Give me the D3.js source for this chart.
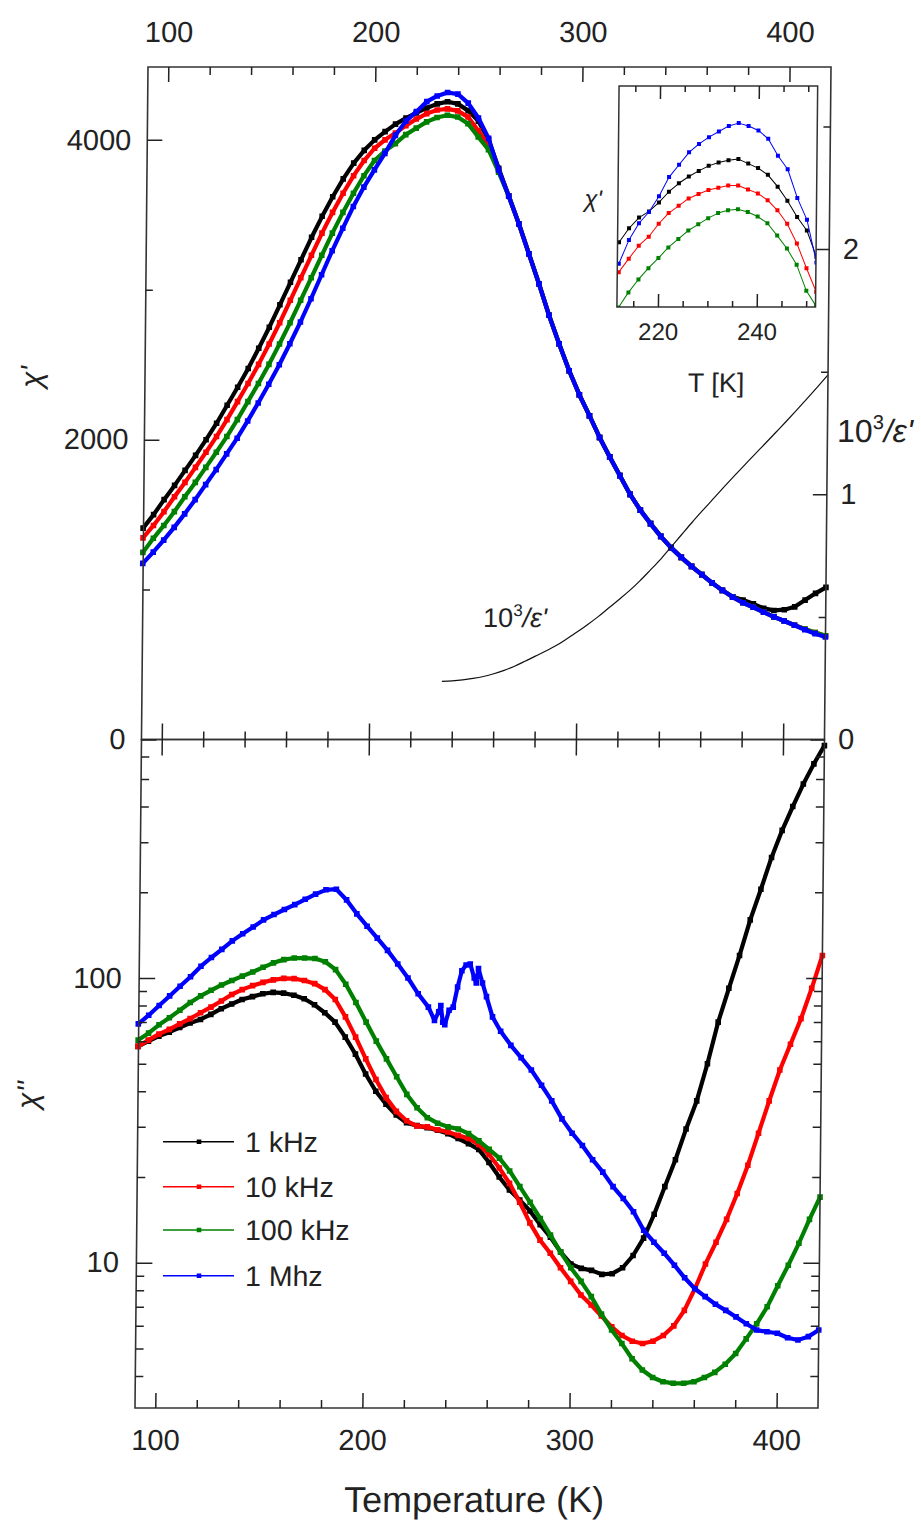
<!DOCTYPE html>
<html>
<head>
<meta charset="utf-8">
<script src="https://cdn.jsdelivr.net/npm/d3@7/dist/d3.min.js"></script>
<style>
  html, body { margin: 0; padding: 0; background: #fff; }
  svg text { font-family: "Liberation Sans", Arial, sans-serif; fill: #222; }
</style>
</head>
<body>
<svg id="chart" width="921" height="1522"></svg>
<script>
// ---------------- data ----------------
const temperature = [90,95,100,105,110,115,120,125,130,135,140,145,150,155,160,165,170,175,180,185,
  190,195,200,205,210,215,220,225,230,235,240,245,250,255,260,265,270,275,280,285,
  290,295,300,305,310,315,320,325,330,335,340,345,350,355,360,365,370,375,380,385,
  390,395,400,405,410,415,420];

// real part chi' (linear scale, upper panel)
const chiReal1k = [1410,1500,1600,1695,1795,1895,2000,2110,2230,2350,
  2475,2610,2750,2900,3050,3200,3350,3490,3620,3740,
  3845,3930,4000,4055,4105,4145,4180,4213,4240,4254,
  4240,4195,4125,4000,3810,3625,3440,3240,3040,2830,
  2640,2460,2300,2160,2015,1885,1760,1635,1530,1440,
  1355,1280,1215,1155,1100,1045,995,952,930,905,
  875,861,866,885,930,975,1015];
const chiReal10k = [1345,1428,1520,1619,1715,1815,1916,2021,2134,2254,
  2375,2502,2638,2780,2930,3080,3230,3378,3516,3644,
  3761,3862,3944,4000,4045,4095,4139,4175,4199,4207,
  4193,4152,4060,3965,3795,3625,3440,3240,3040,2830,
  2640,2460,2300,2160,2015,1885,1760,1635,1530,1440,
  1355,1280,1215,1155,1100,1045,995,950,912,882,
  850,818,790,762,737,713,692];
const chiReal100k = [1248,1342,1428,1520,1619,1715,1815,1916,2021,2134,
  2254,2375,2502,2638,2780,2930,3080,3230,3378,3516,
  3644,3761,3862,3925,3975,4035,4078,4120,4149,4164,
  4152,4108,4020,3935,3785,3625,3440,3240,3040,2830,
  2640,2460,2300,2160,2015,1885,1760,1635,1530,1440,
  1355,1280,1215,1155,1100,1045,995,950,912,882,
  850,818,790,762,737,713,692];
const chiReal1M = [1175,1250,1330,1415,1505,1600,1700,1800,1905,2010,
  2125,2245,2370,2500,2640,2785,2940,3100,3260,3410,
  3555,3685,3800,3910,4030,4125,4188,4255,4293,4316,
  4305,4245,4146,4010,3800,3625,3440,3240,3040,2830,
  2640,2460,2300,2160,2015,1885,1760,1635,1530,1440,
  1355,1280,1215,1155,1100,1045,995,950,912,882,
  850,818,790,762,732,706,684];

// inverse permittivity 10^3/eps' (right axis, upper panel)
const invEpsTemp = [235,240,245,250,255,260,265,270,275,280,285,290,295,300,305,310,315,320,325,330,
  335,340,345,350,355,360,365,370,375,380,385,390,395,400,405,410,415,420];
const invEps = [0.237,0.239,0.243,0.249,0.257,0.268,0.282,0.299,0.319,0.340,0.361,0.383,0.410,0.438,0.468,0.500,0.535,0.570,0.606,0.646,
  0.690,0.735,0.785,0.835,0.885,0.933,0.980,1.027,1.073,1.118,1.163,1.207,1.252,1.297,1.343,1.390,1.438,1.487];

// imaginary part chi'' (log scale, lower panel)
const chiImag1k = [57.5,60,62.5,64.5,67,69.5,71.5,74.5,78,81,
  84,86,88,89,88.5,87,84.5,80.5,75.5,70,
  62,54,46,40,36,33,31,30.3,29.8,29.2,
  28.4,27.3,26.2,25,22.5,20,18,16.6,15.2,13.6,
  12.3,10.9,9.9,9.55,9.4,9.1,9.15,9.6,10.6,12.2,
  14.8,18.5,23,29.5,37,50,70,92,120,160,
  205,265,330,400,480,565,655];
const chiImag10k = [57.5,60.5,63.5,66,69,72,75.5,79,83,87.5,
  91,94,96.5,98.5,99.7,99.5,98,95.5,91,84,
  73,62,52,44,38,34,31.5,30.2,30,29.3,
  28.8,28,27.3,26,24,21.5,19,16.3,13.8,12,
  10.8,9.6,8.6,7.7,7.1,6.5,5.95,5.55,5.3,5.2,
  5.3,5.55,6.0,6.8,8.1,9.9,11.8,14.2,17.5,22,
  28.5,37,47.5,58.5,72,92,120];
const chiImag100k = [60.5,64,68.5,72.5,77,82,86.5,90.5,94.5,98,
  101.5,105,109,113,116,117.5,117.5,117,114,107,
  95,82,70,60,52,45,39,35,32.3,30.9,
  30,29.5,28.4,26.8,25,23.3,21,18.5,16.3,14.3,
  12.5,10.9,9.6,8.6,7.6,6.6,5.8,5.2,4.6,4.2,
  3.95,3.82,3.77,3.77,3.82,3.95,4.12,4.4,4.8,5.4,
  6.1,7.0,8.3,9.8,11.7,14.2,17];
const chiImag1MTemp = [90,95,100,105,110,115,120,125,130,135,140,145,150,155,160,165,170,175,180,185,
  190,195,200,205,210,215,220,225,230,
  233,235,236,237,238,240,242,244,246,248,250,252,253,254,256,258,261,
  265,270,275,280,285,290,295,300,305,310,315,320,325,330,335,340,345,350,355,360,
  365,370,375,380,385,390,395,400,405,410,415,420];
const chiImag1M = [69,74,80,86.5,93.5,101,110,118,126,135,143,151,160,167,174,181,189,197,204,205,
  188,168,152,138,125,112,100,88,79,
  71,76,80,70,68.5,77,79,93,106,111,112,100,96,108,96,86,73,
  65,58,52.5,47.5,42,37,32,28.5,25.8,23,20.8,18.5,16.8,15.1,13,11.8,10.8,9.8,8.85,8.1,
  7.6,7.15,6.8,6.45,6.1,5.8,5.72,5.65,5.45,5.35,5.5,5.8];

// inset: chi' around the maximum
const insetTemp = [212,214,216,218,220,222,224,226,228,230,232,234,236,238,240,242,244,246,248,250,252];
const insetChi1k = [4106,4131,4150,4161,4177,4196,4211,4223,4233,4242,4248,4252,4254,4246,4238,4226,4205,4180,4151,4127,4080];
const insetChi10k = [4053,4077,4100,4116,4139,4158,4171,4184,4192,4199,4203,4207,4207,4200,4193,4181,4163,4139,4104,4060,4018];
const insetChi100k = [3990,4017,4040,4060,4078,4097,4112,4127,4138,4149,4158,4163,4165,4160,4152,4140,4118,4095,4066,4020,3993];
const insetChi1M = [4068,4110,4140,4160,4188,4222,4244,4266,4281,4293,4303,4313,4318,4313,4305,4290,4260,4236,4185,4146,4070];

const seriesNames = ["1 kHz", "10 kHz", "100 kHz", "1 Mhz"];
const seriesColors = ["#000000", "#ff0000", "#008000", "#0000ff"];

// tick values
const tempMajor = [100, 200, 300, 400];
const tempMinor = [120, 140, 160, 180, 220, 240, 260, 280, 320, 340, 360, 380];
const realMajor = [0, 2000, 4000];
const realMinor = [1000, 3000];
const invMajor = [0, 1, 2];
const invMinor = [0.5, 1.5, 2.5];
const imagMajor = [10, 100];
const imagMinor = [4, 5, 6, 7, 8, 9, 20, 30, 40, 50, 60, 70, 80, 90, 200, 300, 400, 500, 600];
const insetMajor = [220, 240];
const insetMinor = [215, 225, 230, 235, 245, 250];

// ---------------- layout ----------------
const lean = 0.0097;                       // the whole figure leans slightly to the left going down
const ux = (px, py) => px + lean * py;     // page x at height py -> x inside the leaning group

const F = { left: 148.65, right: 831.65, top: 67, mid: 739.5, bottom: 1408 };
const I = { left: 619.9, right: 818.5, top: 86, bottom: 307 };
const INK = "#222";

const svg = d3.select("#chart");
svg.append("rect").attr("width", 921).attr("height", 1522).attr("fill", "#fff");
const g = svg.append("g").attr("transform", `skewX(${-Math.atan(lean) * 180 / Math.PI})`);

const x = d3.scaleLinear().domain([90.2, 420]).range([F.left, F.right]);
const yReal = d3.scaleLinear().domain([0, 4486]).range([F.mid, F.top]);
const yInv = d3.scaleLinear().domain([0, 2.7426]).range([F.mid, F.top]);
const yImag = d3.scaleLog().domain([3.088, 688]).range([F.bottom, F.mid]);
const xi = d3.scaleLinear().domain([211.7, 251.9]).range([I.left, I.right]);
const yi = d3.scaleLinear().domain([3991, 4384]).range([I.bottom, I.top]);

function placeAxis(gen, tx, ty, fontSize) {
  const a = g.append("g").attr("transform", `translate(${tx},${ty})`).call(gen);
  a.select(".domain").remove();
  a.attr("font-family", "Liberation Sans, Arial, sans-serif")
   .attr("font-size", fontSize || 29)
   .attr("color", INK);
  a.selectAll("line").attr("stroke-width", 1.5);
  return a;
}
const fmt = d3.format("d");

// ---------------- series ----------------
function drawSeries(layer, xs, ys, xs_, ys_, color, lw, size) {
  const pts = xs.map((t, i) => [t, ys[i]]);
  const line = d3.line().x(d => xs_(d[0])).y(d => ys_(d[1]));
  layer.append("path").datum(pts).attr("d", line)
    .attr("fill", "none").attr("stroke", color).attr("stroke-width", lw)
    .attr("stroke-linejoin", "round");
  layer.append("g").selectAll("rect").data(pts).join("rect")
    .attr("x", d => xs_(d[0]) - size / 2).attr("y", d => ys_(d[1]) - size / 2)
    .attr("width", size).attr("height", size).attr("fill", color);
}

const realSeries = [chiReal1k, chiReal10k, chiReal100k, chiReal1M];
const topLayer = g.append("g");
realSeries.forEach((vals, i) => drawSeries(topLayer, temperature, vals, x, yReal, seriesColors[i], 4.2, 5.6));

// 10^3/eps' curve
g.append("path").datum(invEpsTemp.map((t, i) => [t, invEps[i]]))
  .attr("d", d3.line().curve(d3.curveMonotoneX).x(d => x(d[0])).y(d => yInv(d[1])))
  .attr("fill", "none").attr("stroke", "#111").attr("stroke-width", 1.2);

const imagSeries = [
  [temperature, chiImag1k], [temperature, chiImag10k], [temperature, chiImag100k], [chiImag1MTemp, chiImag1M]
];
const botLayer = g.append("g");
imagSeries.forEach((s, i) => drawSeries(botLayer, s[0], s[1], x, yImag, seriesColors[i], 4.2, 5.6));

// ---------------- frames ----------------
g.append("rect").attr("x", F.left).attr("y", F.top).attr("width", F.right - F.left).attr("height", F.mid - F.top)
  .attr("fill", "none").attr("stroke", "#333").attr("stroke-width", 1.6);
g.append("rect").attr("x", F.left).attr("y", F.mid).attr("width", F.right - F.left).attr("height", F.bottom - F.mid)
  .attr("fill", "none").attr("stroke", "#333").attr("stroke-width", 1.6);

// ---------------- axes ----------------
// top temperature axis (labelled, ticks inward)
placeAxis(d3.axisTop(x).tickValues(tempMajor).tickSizeInner(-15).tickSizeOuter(0).tickPadding(25.5).tickFormat(fmt), 0, F.top);
placeAxis(d3.axisTop(x).tickValues(tempMinor).tickSizeInner(-8).tickSizeOuter(0).tickFormat(""), 0, F.top);
// shared middle axis, ticks on both sides
placeAxis(d3.axisBottom(x).tickValues(tempMajor).tickSizeInner(16).tickSizeOuter(0).tickFormat(""), 0, F.mid);
placeAxis(d3.axisTop(x).tickValues(tempMajor).tickSizeInner(16).tickSizeOuter(0).tickFormat(""), 0, F.mid);
placeAxis(d3.axisBottom(x).tickValues(tempMinor).tickSizeInner(8).tickSizeOuter(0).tickFormat(""), 0, F.mid);
placeAxis(d3.axisTop(x).tickValues(tempMinor).tickSizeInner(8).tickSizeOuter(0).tickFormat(""), 0, F.mid);
// bottom temperature axis
placeAxis(d3.axisBottom(x).tickValues(tempMajor).tickSizeInner(-15).tickSizeOuter(0).tickPadding(21.4).tickFormat(fmt), 0, F.bottom);
placeAxis(d3.axisBottom(x).tickValues(tempMinor).tickSizeInner(-8).tickSizeOuter(0).tickFormat(""), 0, F.bottom);

// chi' left axis
placeAxis(d3.axisLeft(yReal).tickValues(realMajor).tickSizeInner(-15).tickSizeOuter(0).tickPadding(16).tickFormat(fmt), F.left, 0);
placeAxis(d3.axisLeft(yReal).tickValues(realMinor).tickSizeInner(-7).tickSizeOuter(0).tickFormat(""), F.left, 0);
// 10^3/eps' right axis
placeAxis(d3.axisRight(yInv).tickValues(invMajor).tickSizeInner(-14).tickSizeOuter(0).tickPadding(13.5).tickFormat(fmt), F.right, 0);
placeAxis(d3.axisRight(yInv).tickValues(invMinor).tickSizeInner(-7).tickSizeOuter(0).tickFormat(""), F.right, 0);
// chi'' log axes
placeAxis(d3.axisLeft(yImag).tickValues(imagMajor).tickSizeInner(-16).tickSizeOuter(0).tickPadding(17.5).tickFormat(fmt), F.left, 0);
placeAxis(d3.axisLeft(yImag).tickValues(imagMinor).tickSizeInner(-8).tickSizeOuter(0).tickFormat(""), F.left, 0);
placeAxis(d3.axisRight(yImag).tickValues(imagMajor).tickSizeInner(-16).tickSizeOuter(0).tickFormat(""), F.right, 0);
placeAxis(d3.axisRight(yImag).tickValues(imagMinor).tickSizeInner(-8).tickSizeOuter(0).tickFormat(""), F.right, 0);

// ---------------- inset ----------------
const inset = g.append("g");
inset.append("rect").attr("x", I.left).attr("y", I.top).attr("width", I.right - I.left).attr("height", I.bottom - I.top)
  .attr("fill", "#fff");
const clip = svg.append("defs").append("clipPath").attr("id", "insetClip");
clip.append("rect").attr("x", I.left).attr("y", I.top).attr("width", I.right - I.left).attr("height", I.bottom - I.top);
const insetData = inset.append("g").attr("clip-path", "url(#insetClip)");
[insetChi1k, insetChi10k, insetChi100k, insetChi1M].forEach((vals, i) =>
  drawSeries(insetData, insetTemp, vals, xi, yi, seriesColors[i], 1, 4));
inset.append("rect").attr("x", I.left).attr("y", I.top).attr("width", I.right - I.left).attr("height", I.bottom - I.top)
  .attr("fill", "none").attr("stroke", "#333").attr("stroke-width", 1.5);
placeAxis(d3.axisTop(xi).tickValues(insetMajor).tickSizeInner(-13).tickSizeOuter(0).tickFormat(""), 0, I.top);
placeAxis(d3.axisTop(xi).tickValues(insetMinor).tickSizeInner(-6).tickSizeOuter(0).tickFormat(""), 0, I.top);
placeAxis(d3.axisBottom(xi).tickValues(insetMajor).tickSizeInner(-13).tickSizeOuter(0).tickPadding(15.5).tickFormat(fmt), 0, I.bottom, 24);
placeAxis(d3.axisBottom(xi).tickValues(insetMinor).tickSizeInner(-6).tickSizeOuter(0).tickFormat(""), 0, I.bottom);

// ---------------- text ----------------
function label(px, py, txt, size, opts = {}) {
  const t = g.append("text")
    .attr("x", ux(px, py)).attr("y", py)
    .attr("font-size", size)
    .attr("text-anchor", opts.anchor || "start")
    .text(txt);
  if (opts.italic) t.attr("font-style", "italic");
  if (opts.fill) t.attr("fill", opts.fill);
  return t;
}

label(474, 1512, "Temperature (K)", 36, { anchor: "middle" });
label(716, 392, "T [K]", 27, { anchor: "middle" });
label(593, 207, "χ'", 24, { anchor: "middle", italic: true, fill: "#6d68a0" });

function rotated(px, py, txt, size) {
  g.append("text")
    .attr("transform", `translate(${ux(px, py)},${py}) rotate(-90)`)
    .attr("font-size", size).attr("font-style", "italic")
    .attr("text-anchor", "middle").text(txt);
}
rotated(41.5, 377, "χ'", 30);
rotated(38, 1095, "χ''", 30);

function invEpsLabel(px, py, size, supSize, rise) {
  const t = g.append("text").attr("x", ux(px, py)).attr("y", py).attr("font-size", size);
  t.append("tspan").text("10");
  t.append("tspan").attr("font-size", supSize).attr("dy", -rise).text("3");
  t.append("tspan").attr("dy", rise).attr("font-style", "italic").text("/ε'");
}
invEpsLabel(837, 442, 32, 20, 13);
invEpsLabel(483, 627, 27, 17, 11);

// ---------------- legend ----------------
const legendRows = [1141.7, 1186.7, 1230, 1275.7];
seriesNames.forEach((name, i) => {
  const cy = legendRows[i];
  g.append("line").attr("x1", ux(163, cy)).attr("x2", ux(234, cy)).attr("y1", cy).attr("y2", cy)
    .attr("stroke", seriesColors[i]).attr("stroke-width", 1.5);
  g.append("rect").attr("x", ux(199, cy) - 2.3).attr("y", cy - 2.3).attr("width", 4.6).attr("height", 4.6)
    .attr("fill", seriesColors[i]);
  label(245, cy + 10.2, name, 28.5);
});
</script>
</body>
</html>
